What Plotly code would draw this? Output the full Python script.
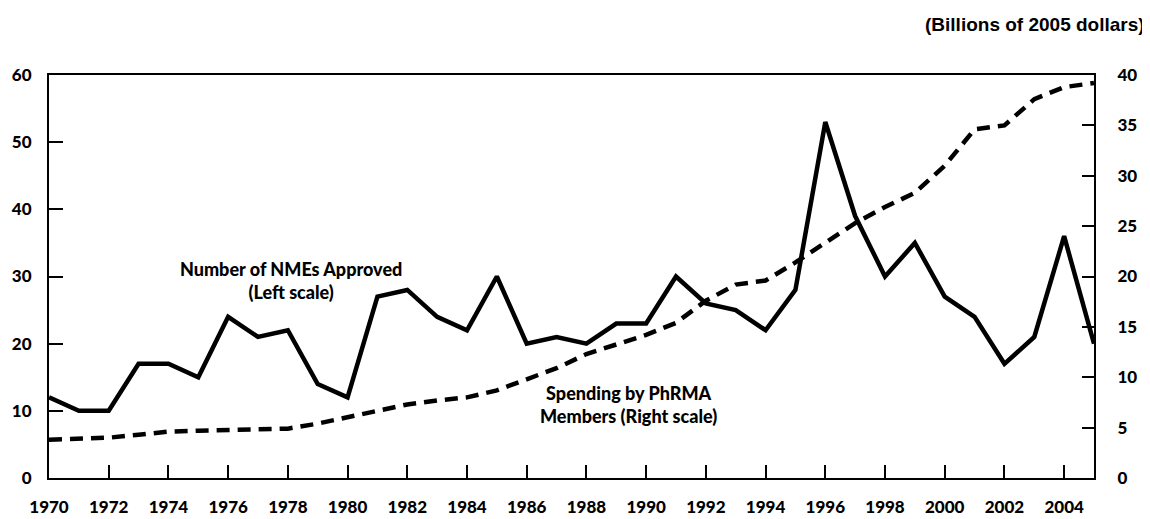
import plotly.graph_objects as go

years = list(range(1970, 2006))
nmes = [12, 10, 10, 17, 17, 15, 24, 21, 22, 14, 12, 27, 28, 24, 22, 30, 20, 21, 20, 23,
        23, 30, 26, 25, 22, 28, 53, 39, 30, 35, 27, 24, 17, 21, 36, 20]
spending = [3.8, 3.9, 4.0, 4.3, 4.6, 4.7, 4.8, 4.9, 4.9, 5.4, 6.0, 6.7, 7.3, 7.7, 8.0, 8.7,
            9.8, 10.9, 12.3, 13.2, 14.2, 15.4, 17.6, 19.2, 19.6, 21.4, 23.3, 25.3, 26.9,
            28.3, 31.0, 34.6, 35.0, 37.6, 38.8, 39.2]
x_ticks = list(range(1970, 2005, 2))
left_ticks = [0, 10, 20, 30, 40, 50, 60]
right_ticks = [0, 5, 10, 15, 20, 25, 30, 35, 40]

tick_font = dict(family="Lato", size=17, color="black", weight=900)
ann_font = dict(family="Lato", size=18, color="black", weight=900)

fig = go.Figure()
fig.add_trace(go.Scatter(x=years, y=nmes, mode="lines",
                         line=dict(color="black", width=4.5), yaxis="y",
                         showlegend=False))
fig.add_trace(go.Scatter(x=years, y=spending, mode="lines",
                         line=dict(color="black", width=4.5, dash="13px,8px"),
                         yaxis="y2", showlegend=False))

# page body has an 8px default margin, so the figure is sized to fit inside it
fig.update_layout(
    width=1142, height=511,
    margin=dict(l=41, r=56, t=67, b=41),
    paper_bgcolor="white", plot_bgcolor="white",
    xaxis=dict(range=[1970, 2005], tickvals=x_ticks, ticktext=[str(v) for v in x_ticks],
               ticks="inside", ticklen=13, tickwidth=2, tickcolor="black",
               showline=True, linecolor="black", linewidth=2, mirror=True,
               showgrid=False, zeroline=False, tickfont=tick_font,
               ticklabelstandoff=13, automargin=False),
    yaxis=dict(range=[0, 60], tickvals=left_ticks, ticks="inside", ticklen=14,
               tickwidth=2, tickcolor="black", showline=True, linecolor="black",
               linewidth=2, showgrid=False, zeroline=False, tickfont=tick_font,
               ticklabelstandoff=12, automargin=False),
    yaxis2=dict(range=[0, 40], tickvals=right_ticks, overlaying="y", side="right",
                ticks="inside", ticklen=12, tickwidth=2, tickcolor="black",
                showline=True, linecolor="black", linewidth=2, showgrid=False,
                zeroline=False, tickfont=tick_font, ticklabelstandoff=18,
                automargin=False),
    annotations=[
        dict(text="(Billions of 2005 dollars)", xref="paper", yref="paper",
             x=1.0 + 53 / 1045, y=1 + 50 / 403, xanchor="right", yanchor="middle",
             showarrow=False,
             font=dict(family="Liberation Sans", size=19, color="black",
                       weight="bold")),
        dict(text="Number of NMEs Approved<br>(Left scale)", xref="x", yref="y",
             x=1978.1, y=29.4, xanchor="center", yanchor="middle", showarrow=False,
             font=ann_font, align="center"),
        dict(text="Spending by PhRMA<br>Members (Right scale)", xref="x", yref="y",
             x=1989.4, y=11.0, xanchor="center", yanchor="middle", showarrow=False,
             font=ann_font, align="center"),
    ],
)

fig.write_html("out.html")
